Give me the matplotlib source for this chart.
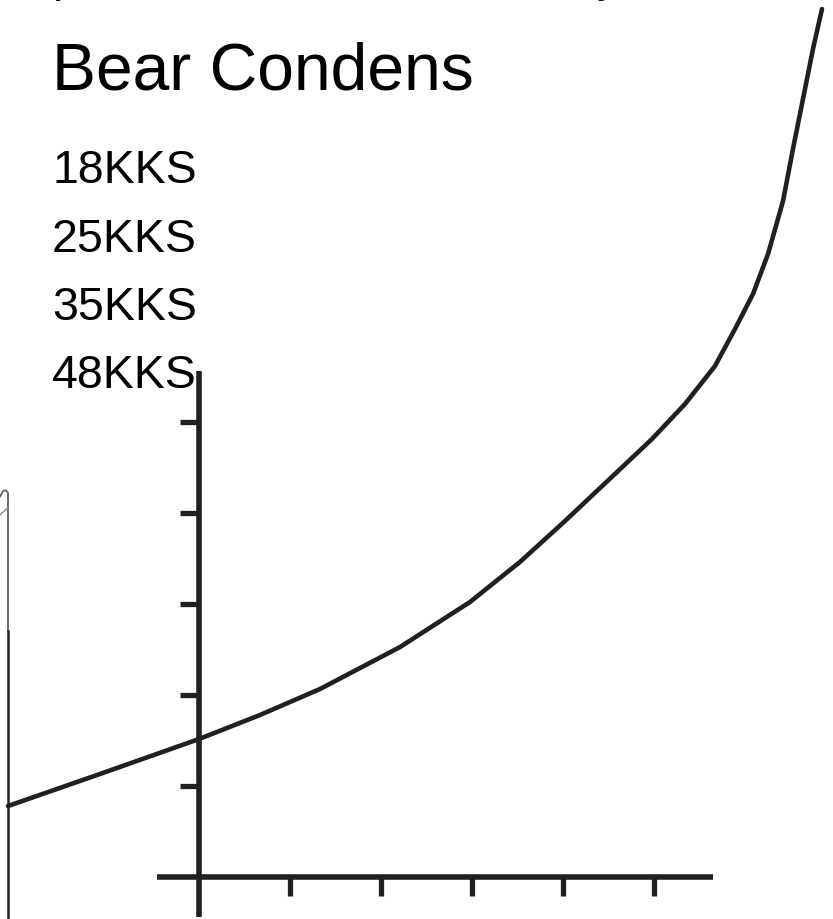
import matplotlib.pyplot as plt

plt.rcParams['font.family'] = ['Liberation Sans', 'DejaVu Sans']

INK = '#231f20'

# curve (one axis unit = one tick step)
curve_x = [-2.099, -1.088, 0.0, 0.670, 1.330, 2.209, 2.978, 3.527, 4.022,
           4.571, 4.978, 5.341, 5.670, 5.890, 6.088, 6.253, 6.418, 6.527,
           6.637, 6.747, 6.846]
curve_y = [0.780, 1.132, 1.516, 1.780, 2.066, 2.527, 3.022, 3.462, 3.912,
           4.429, 4.813, 5.198, 5.615, 6.022, 6.407, 6.846, 7.429, 8.000,
           8.549, 9.099, 9.538]

tick_pos = [1, 2, 3, 4, 5]
labels = ['18KKS', '25KKS', '35KKS', '48KKS']
title = 'Bear Condens'

# edge of the neighbouring drawing on the left (cropped)
edge_x = [-2.187, -2.154, -2.121, -2.099, -2.099]
edge_y = [4.18, 4.24, 4.25, 4.22, 2.70]
edge_low_x = [-2.099, -2.099]
edge_low_y = [2.70, -0.47]
edge_diag_x = [-2.187, -2.099]
edge_diag_y = [3.98, 4.06]

fig = plt.figure(figsize=(8.33, 9.2), dpi=100)
ax = fig.add_axes([0, 0, 1, 1])
ax.set_xlim(-199 / 91, 634 / 91)
ax.set_ylim(-42 / 91, 878 / 91)
ax.patch.set_visible(False)

for s in ['top', 'right']:
    ax.spines[s].set_visible(False)
ax.spines['left'].set_position(('data', 0))
ax.spines['bottom'].set_position(('data', 0))
ax.spines['left'].set_bounds(-0.44, 5.56)
ax.spines['bottom'].set_bounds(-0.46, 5.65)
for s in ['left', 'bottom']:
    ax.spines[s].set_linewidth(4)
    ax.spines[s].set_color(INK)
    ax.spines[s].set_capstyle('butt')

ax.set_xticks(tick_pos)
ax.set_yticks(tick_pos)
ax.tick_params(direction='out', length=14, width=3.8, color=INK,
               labelleft=False, labelbottom=False)

ax.plot(curve_x, curve_y, color=INK, lw=3.3, solid_capstyle='round',
        solid_joinstyle='round', clip_on=False)

ax.plot(edge_x, edge_y, color='#6d6a6b', lw=1.4)
ax.plot(edge_diag_x, edge_diag_y, color='#8a8788', lw=1.0)
ax.plot(edge_low_x, edge_low_y, color=INK, lw=1.8)

# text, positioned in figure pixels
H = 920
fig.text(52 / 833, 1 - 90 / H, title, fontsize=47.5, color='black',
         va='baseline', ha='left')
for i, lab in enumerate(labels):
    base = [183, 252, 320, 388][i]
    fig.text(52 / 833, 1 - base / H, lab, fontsize=33.5, color='black',
             va='baseline', ha='left')
# descenders of a cropped line of text above
fig.text(52 / 833, 1 + 9 / H, 'p', fontsize=33, color='black', va='baseline')
fig.text(597 / 833, 1 + 9 / H, 'y', fontsize=33, color='black', va='baseline')

fig.savefig('out.png', dpi=100, facecolor='white')
